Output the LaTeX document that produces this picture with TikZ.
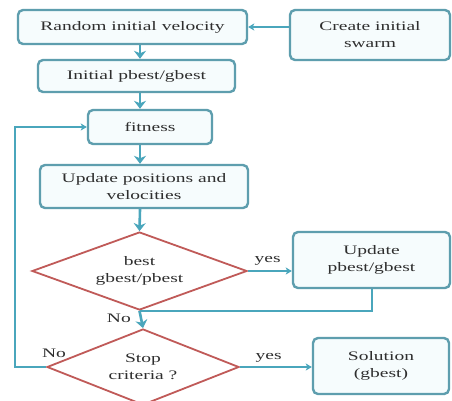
\documentclass[tikz,border=0pt]{standalone}
\usepackage{fontspec}
\setmainfont{Liberation Serif}[FakeStretch=1.5]
\usetikzlibrary{shapes.geometric,arrows.meta}
\definecolor{boxc}{HTML}{5E9EAE}
\definecolor{boxfill}{HTML}{F6FCFD}
\definecolor{arrc}{HTML}{4AA6BC}
\definecolor{diac}{HTML}{C05A58}
\definecolor{txtc}{HTML}{2E2E2E}
\tikzset{
  procbox/.style={draw=boxc, fill=boxfill, line width=2.4pt, rounded corners=5pt,
    inner sep=0pt, align=center, text=txtc},
  decision/.style={diamond, draw=diac, line width=1.8pt, inner sep=0pt,
    align=center, text=txtc},
  flow/.style={draw=arrc, line width=2.6pt, -{Stealth[length=8pt,width=12pt,inset=2.5pt]}},
  sflow/.style={draw=arrc, line width=2pt, -{Stealth[length=6pt,width=7pt,inset=1.5pt]}},
  plain/.style={draw=arrc, line width=2pt},
  lbl/.style={text=txtc, inner sep=0pt},
}
\begin{document}
\begin{tikzpicture}[x=1pt,y=-1pt, font=\fontsize{13}{17}\selectfont]
\useasboundingbox[fill=white] (0,0) rectangle (452,400);
\coordinate (ax) at (140,0);
\coordinate (fb) at (15,0);

\node[procbox, minimum width=229pt, minimum height=34pt] (ran) at (132.5,27) {Random initial velocity};
\node[procbox, minimum width=160pt, minimum height=50pt] (cre) at (370,35) {Create initial\\swarm};
\node[procbox, minimum width=197pt, minimum height=32pt] (ini) at (136.5,76) {Initial pbest/gbest};
\node[procbox, minimum width=124pt, minimum height=34pt] (fit) at (150,127) {fitness};
\node[procbox, minimum width=208pt, minimum height=43pt] (upd) at (144,186.5) {Update positions and\\velocities};
\node[decision, aspect=2.76, minimum width=215pt, minimum height=78pt] (d1) at (139.5,271) {best\\gbest/pbest};
\node[procbox, minimum width=157pt, minimum height=56pt] (upb) at (371.5,260) {Update\\pbest/gbest};
\node[decision, aspect=2.53, minimum width=192pt, minimum height=76pt] (d2) at (143,367) {Stop\\criteria ?};
\node[procbox, minimum width=136pt, minimum height=56pt] (sol) at (381,366) {Solution\\(gbest)};

\draw[sflow] (ran.east -| cre.west) -- (ran.east);
\draw[flow] (ran.south -| ax) -- (ini.north -| ax);
\draw[flow] (ini.south -| ax) -- (fit.north -| ax);
\draw[flow] (fit.south -| ax) -- (upd.north -| ax);
\draw[flow] (upd.south -| ax) -- (d1.north);
\draw[sflow] (d1.east) -- (d1.east -| upb.west) node[lbl, pos=0.45, above=5pt] {yes};
\draw[plain] (upb.south) |- (d1.south);
\draw[flow] (d1.south) -- (d2.north) node[lbl, pos=0.45, left=9pt] {No};
\draw[sflow] (d2.east) -- (d2.east -| sol.west) node[lbl, pos=0.4, above=4pt] {yes};
\draw[sflow] (d2.west) -- (d2.west -| fb) -- (fb |- fit.west) -- (fit.west);
\node[lbl] (no2) at (54,353) {No};
\end{tikzpicture}
\end{document}
